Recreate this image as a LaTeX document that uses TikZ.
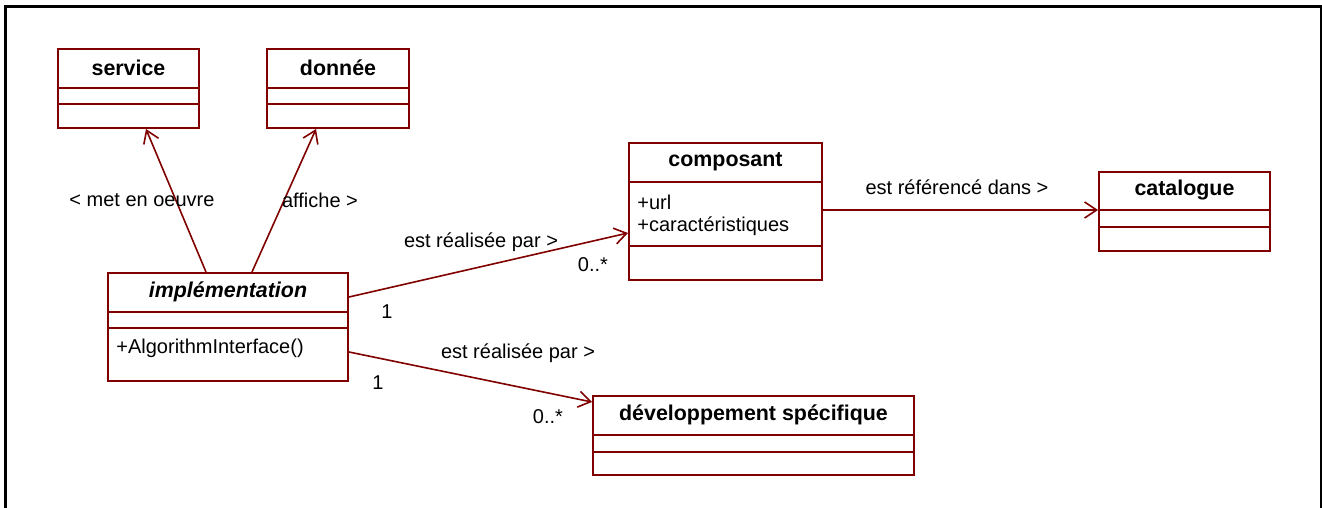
\documentclass[tikz,border=0pt]{standalone}
\usepackage{fontspec}
\setmainfont{Liberation Sans}
\usetikzlibrary{positioning,calc,arrows.meta}
\definecolor{umlred}{RGB}{128,0,0}
\tikzset{
	every node/.style={font=\fontsize{10}{12}\selectfont},
	classbox/.style={draw=umlred, line width=1pt, fill=white, anchor=north west, inner sep=0pt}, % the whole class rectangle
	classname/.style={font=\fontsize{10.7}{12}\selectfont\bfseries, inner sep=0pt},
	member/.style={anchor=west, inner sep=0pt},
	compartment/.style={draw=umlred, line width=1pt},
	assoc/.style={draw=umlred, line width=0.8pt, -{Straight Barb[length=6pt,width=8pt]}}, % navigable association
	lbl/.style={inner sep=0pt},
	frame/.style={line width=1.5pt}
}
\newcommand{\compline}[2]{\draw[compartment] ($(#1.north west)+(0,#2)$) -- ($(#1.north east)+(0,#2)$);}

\begin{document}
\begin{tikzpicture}[x=0.5pt, y=-0.5pt]
	\useasboundingbox (0,0) rectangle (1322,508);
	\draw[frame] (5,508) -- (5,7) -- (1321,7) -- (1321,508);
	% classes
	\node[classbox, minimum width=70.5pt, minimum height=39.5pt] (service) at (57,48) {};
	\node[classbox, minimum width=71pt, minimum height=39.5pt] (donnee) at (266,48) {};
	\node[classbox, minimum width=120pt, minimum height=54pt] (impl) at (107,272) {};
	\node[classbox, minimum width=96.5pt, minimum height=68.5pt] (composant) at (628,142) {};
	\node[classbox, minimum width=85.5pt, minimum height=39.5pt] (catalogue) at (1098,171) {};
	\node[classbox, minimum width=160.5pt, minimum height=39.5pt] (devspec) at (592,395) {};
	\compline{service}{40} \compline{service}{56}
	\compline{donnee}{40} \compline{donnee}{56}
	\compline{impl}{40} \compline{impl}{56}
	\compline{composant}{40} \compline{composant}{104}
	\compline{catalogue}{39} \compline{catalogue}{56}
	\compline{devspec}{40} \compline{devspec}{57}
	\node[classname] (serviceT) at ($(service.north)+(0,20)$) {service};
	\node[classname] (donneeT) at ($(donnee.north)+(0,20)$) {donnée};
	\node[classname, font=\fontsize{10.7}{12}\selectfont\bfseries\itshape] (implT) at ($(impl.north)+(0,20)$) {implémentation};
	\node[classname] (composantT) at ($(composant.north)+(0,20)$) {composant};
	\node[classname] (catalogueT) at ($(catalogue.north)+(0,19)$) {catalogue};
	\node[classname] (devspecT) at ($(devspec.north)+(0,20)$) {développement spécifique};
	\node[member] (implOp) at ($(impl.north west)+(9,76)$) {+AlgorithmInterface()};
	\node[member] (compUrl) at ($(composant.north west)+(9,60)$) {+url};
	\node[member] (compCar) at ($(composant.north west)+(9,84)$) {+caractéristiques};
	% associations
	\draw[assoc] ($(impl.north west)+(99,0)$) -- ($(service.south west)+(89,0)$);
	\draw[assoc] ($(impl.north west)+(145,0)$) -- ($(donnee.south west)+(50,0)$);
	\draw[assoc] ($(impl.north east)+(0,25)$) -- ($(composant.north west)+(0,91)$);
	\draw[assoc] ($(impl.north east)+(0,80)$) -- ($(devspec.north west)+(0,7)$);
	\draw[assoc] ($(composant.north east)+(0,68)$) -- ($(catalogue.north west)+(0,39)$);
	% labels
	\node[lbl] (lService) at (142,200) {< met en oeuvre};
	\node[lbl] (lDonnee) at (320,200) {affiche >};
	\node[lbl] (lComp) at (481,242) {est réalisée par >};
	\node[lbl] (lDev) at (518,353) {est réalisée par >};
	\node[lbl] (lCat) at (957,187) {est référencé dans >};
	\node[lbl] (mImplComp) at (387,312) {1};
	\node[lbl] (mComp) at (593,265) {0..*};
	\node[lbl] (mImplDev) at (378,383) {1};
	\node[lbl] (mDev) at (548,417) {0..*};
\end{tikzpicture}
\end{document}
